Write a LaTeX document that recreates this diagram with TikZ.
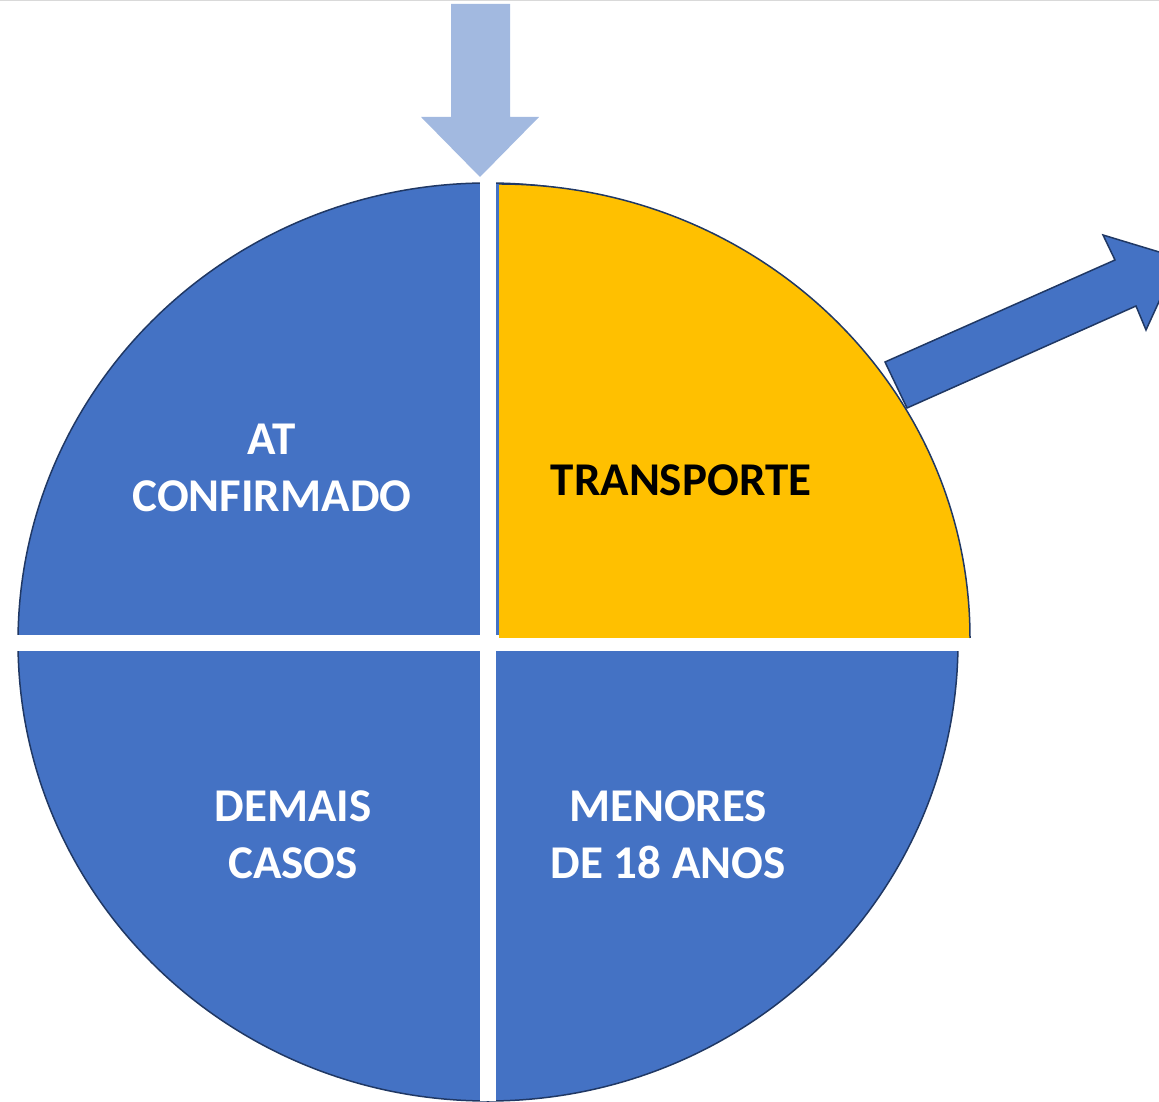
\documentclass[tikz,border=0pt]{standalone}
\usepackage{fontspec}
\setmainfont{Carlito}
\usetikzlibrary{positioning}
\definecolor{pieblue}{HTML}{4472C4}
\definecolor{pieyellow}{HTML}{FFC000}
\definecolor{pieedge}{HTML}{203864}
\definecolor{arrowlight}{HTML}{A2B9E0}
\tikzset{
    edgeline/.style = {draw=pieedge, line width=1.5pt},
    gap/.style = {fill=white},
    sector/.style = {font=\fontsize{47}{57}\selectfont\bfseries, align=center, inner sep=0pt, text=white}
}
\begin{document}
\begin{tikzpicture}[x=1pt,y=1pt]
  \clip (0,0) rectangle (1159,1101);
  \coordinate (O) at (488,459);
  \coordinate (Q) at (499,463);

  % frame line at the top
  \draw[black!15, line width=1.5pt] (0,1101) -- (1159,1101);

  % the disc
  \filldraw[fill=pieblue, edgeline] (O) ellipse [x radius=470, y radius=459];
  \begin{scope}
    \clip (O) ellipse [x radius=473, y radius=462];
    \fill[gap] (480,0) rectangle (496,1101);
    \fill[gap] (0,450) rectangle (1159,466);
  \end{scope}

  % pulled out quarter
  \fill[pieyellow] (Q) -- (970,463) arc [start angle=0, end angle=90, x radius=471, y radius=454] -- cycle;
  \draw[edgeline] (970,463) arc [start angle=0, end angle=90, x radius=471, y radius=454];

  % arrows
  \fill[arrowlight] (451,1097) -- (510,1097) -- (510,984) -- (539,984)
       -- (480,924) -- (421,984) -- (451,984) -- cycle;
  \filldraw[fill=pieblue, edgeline, line join=miter] (885,739) -- (1115,841) -- (1103,866)
       -- (1179,843) -- (1146,771) -- (1136,795) -- (907,693) -- cycle;

  \node[sector] (conf) at (272,633) {AT\\CONFIRMADO};
  \node[sector, text=black] (transp) at (681,621) {TRANSPORTE};
  \node[sector] (demais) at (293,266) {DEMAIS\\CASOS};
  \node[sector] (menores) at (668,266) {MENORES\\DE 18 ANOS};
\end{tikzpicture}
\end{document}
